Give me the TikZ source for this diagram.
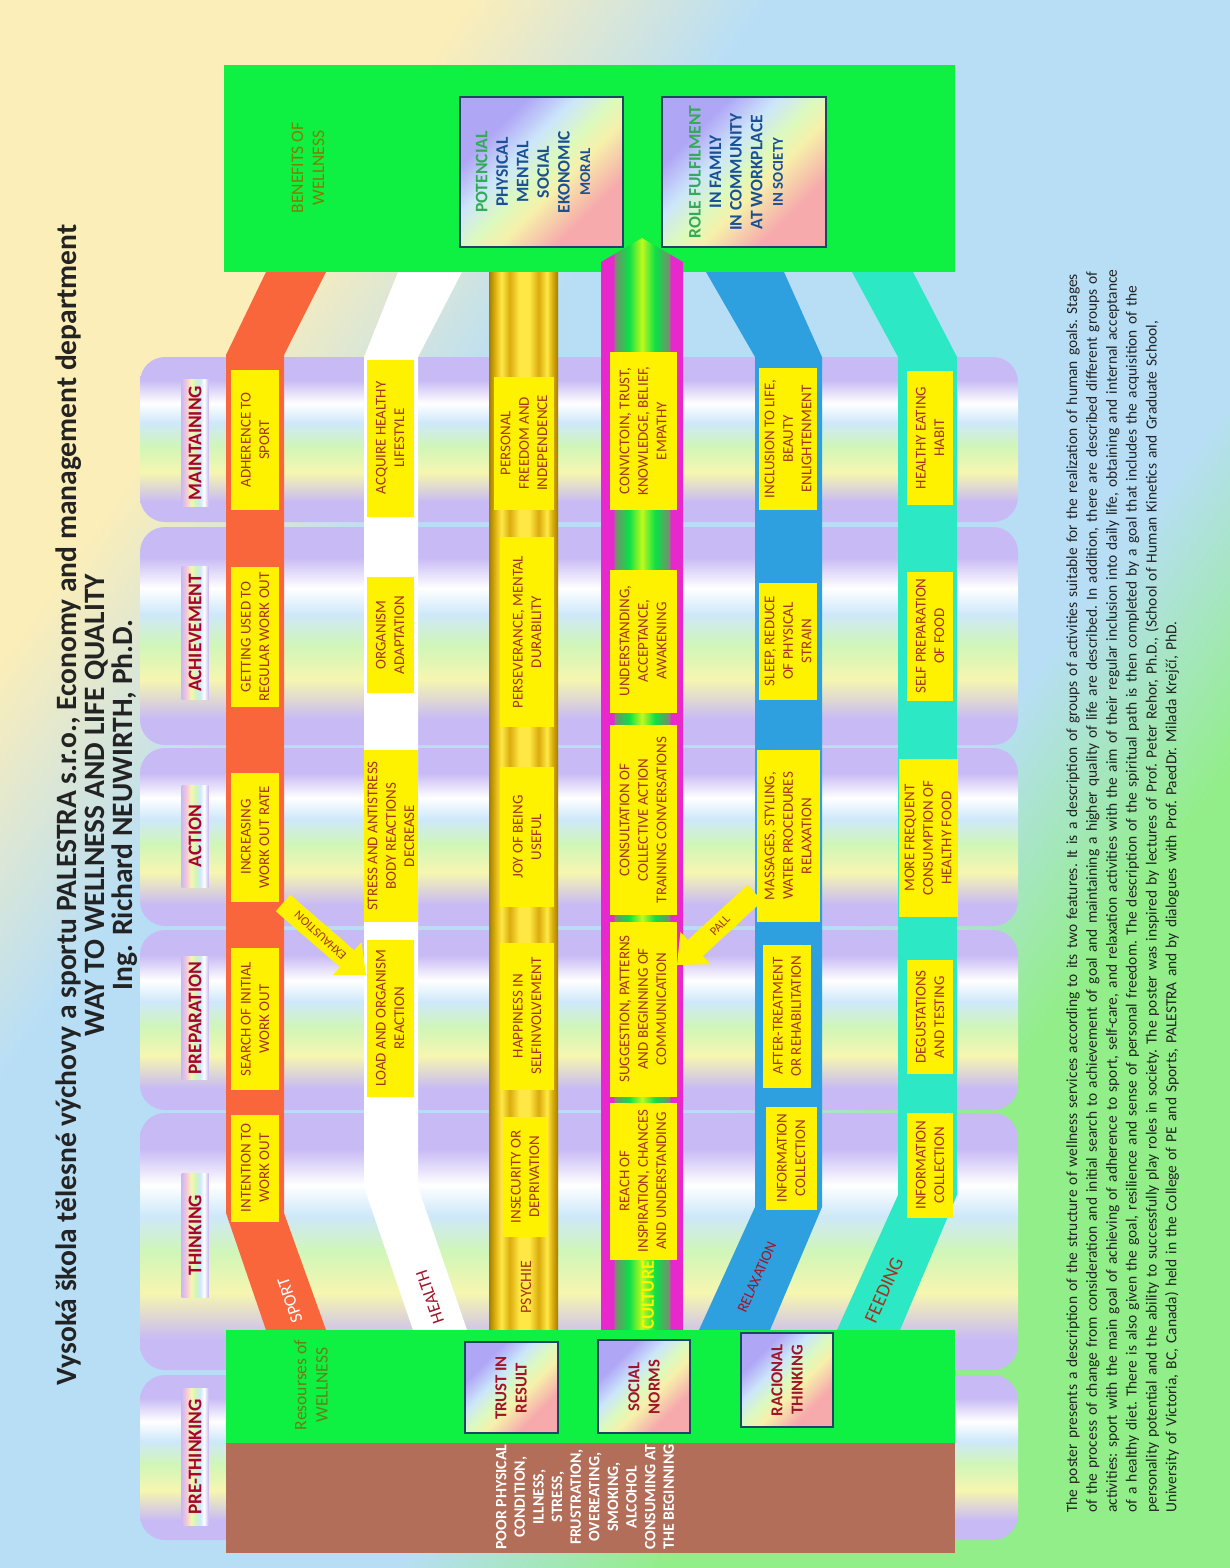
\documentclass[tikz,border=0pt]{standalone}
\usepackage{fontspec}
\setmainfont{Carlito}
\usetikzlibrary{calc}

\newcommand{\upx}{0.02cm}
\newlength{\blurbwidth}
\setlength{\blurbwidth}{28.36cm}

% colours
\definecolor{bgyellow}{RGB}{252,238,184}
\definecolor{bgblue}{RGB}{184,222,246}
\definecolor{bggreen}{RGB}{146,238,136}
\definecolor{pilllav}{RGB}{200,186,245}
\definecolor{pillyel}{RGB}{246,246,176}
\definecolor{pillgrn}{RGB}{208,246,184}
\definecolor{pillblu}{RGB}{206,232,250}
\definecolor{tagpink}{RGB}{246,200,214}
\definecolor{wellgreen}{RGB}{14,240,66}
\definecolor{poorbrown}{RGB}{178,110,88}
\definecolor{sportred}{RGB}{250,102,60}
\definecolor{relaxblue}{RGB}{46,160,224}
\definecolor{feedcyan}{RGB}{44,232,196}
\definecolor{golddark}{RGB}{160,126,0}
\definecolor{goldmid}{RGB}{218,172,12}
\definecolor{goldlight}{RGB}{255,232,70}
\definecolor{culturemag}{RGB}{232,40,204}
\definecolor{culturegray}{RGB}{120,140,110}
\definecolor{culturegreen}{RGB}{10,225,70}
\definecolor{cultureyel}{RGB}{190,250,30}
\definecolor{goallav}{RGB}{176,166,246}
\definecolor{goalblue}{RGB}{204,230,250}
\definecolor{goalgrn}{RGB}{220,250,190}
\definecolor{goalyel}{RGB}{246,240,170}
\definecolor{goalpink}{RGB}{246,170,172}
\definecolor{framecol}{RGB}{30,70,100}
\definecolor{celltext}{RGB}{165,50,30}
\definecolor{stagetext}{RGB}{170,0,50}
\definecolor{olivetext}{RGB}{128,128,0}
\definecolor{resgreen}{RGB}{100,130,20}
\definecolor{goalgreentext}{RGB}{50,170,90}
\definecolor{goalbluetext}{RGB}{25,80,150}
\definecolor{normtext}{RGB}{160,20,40}
\definecolor{inktext}{RGB}{35,35,35}

% shadings (the path fills the 25bp--75bp part)
\pgfdeclarehorizontalshading{bgshade}{100bp}{color(0bp)=(bgyellow); color(29bp)=(bgyellow); color(38bp)=(bgblue); color(60bp)=(bgblue); color(68bp)=(bggreen); color(100bp)=(bggreen)}
\pgfdeclareverticalshading{pillshade}{100bp}{color(0bp)=(pilllav); color(31bp)=(pilllav); color(40bp)=(pillyel); color(48bp)=(pillgrn); color(55bp)=(pillblu); color(61bp)=(white); color(68bp)=(pilllav); color(100bp)=(pilllav)}
\pgfdeclarehorizontalshading{tagshade}{100bp}{color(0bp)=(pilllav); color(25bp)=(pilllav); color(34bp)=(tagpink); color(43bp)=(pillyel); color(51bp)=(pillgrn); color(59bp)=(pillblu); color(67bp)=(white); color(75bp)=(pilllav); color(100bp)=(pilllav)}
\pgfdeclarehorizontalshading{goldshade}{100bp}{color(0bp)=(golddark); color(25bp)=(golddark); color(29bp)=(goldmid); color(34bp)=(goldlight); color(40bp)=(goldmid); color(47bp)=(goldlight); color(54bp)=(goldlight); color(61bp)=(goldmid); color(67bp)=(goldlight); color(71bp)=(goldmid); color(75bp)=(golddark); color(100bp)=(golddark)}
\pgfdeclarehorizontalshading{cultureshade}{100bp}{color(0bp)=(culturemag); color(32.5bp)=(culturemag); color(33.5bp)=(culturegray); color(42bp)=(culturegreen); color(50bp)=(cultureyel); color(58bp)=(culturegreen); color(66.5bp)=(culturegray); color(67.5bp)=(culturemag); color(100bp)=(culturemag)}
\pgfdeclarehorizontalshading{goalshade}{100bp}{color(0bp)=(goallav); color(30bp)=(goallav); color(41bp)=(goalblue); color(50bp)=(goalgrn); color(57bp)=(goalyel); color(70bp)=(goalpink); color(100bp)=(goalpink)}

\begin{document}
\begin{tikzpicture}[x=\upx, y=-\upx,
  stagetag/.style={rotate=90, shade, shading=tagshade, text=stagetext, inner sep=0pt,
    minimum height=0.54cm, font=\bfseries\fontsize{11}{13}\selectfont},
  cell/.style={rotate=90, fill=yellow, text=celltext, align=center, inner sep=0pt,
    font=\fontsize{8.5}{10.5}\selectfont},
  goalbox/.style={shade, shading=goalshade, shading angle=-45, draw=framecol, line width=1.2pt},
  goalnote/.style={rotate=90, align=center, inner sep=0pt, font=\bfseries\fontsize{10}{11.7}\selectfont},
  headnote/.style={rotate=90, align=center, inner sep=0pt, font=\fontsize{10}{12}\selectfont},
  bandtag/.style={inner sep=0pt, font=\fontsize{10}{12}\selectfont},
  arrowtag/.style={inner sep=0pt, text=celltext, font=\fontsize{7}{8}\selectfont}]

  % Background
  \useasboundingbox (0,0) rectangle (1230,1568);
  \shade[shading=bgshade, shading angle=-35.5] (0,0) rectangle (1230,1568);

  % Stage columns
  \foreach \ya/\yb in {357/522, 527/745, 748/926, 930/1110, 1113/1370, 1375/1540}
    \shade[shading=pillshade, rounded corners=0.5cm] (140,\ya) rectangle (1018,\yb);

  % Bands
  \fill[sportred] (266,272) -- (226,355) -- (226,1213) -- (266,1330) -- (326,1330)
    -- (284,1213) -- (284,355) -- (326,272) -- cycle;
  \fill[white] (398,272) -- (364,357) -- (364,1187) -- (413,1330) -- (467,1330)
    -- (418,1187) -- (418,357) -- (462,272) -- cycle;
  \shade[shading=goldshade] (489,272) rectangle (558,1330);
  \shade[shading=cultureshade] (601,272) rectangle (683,1330);
  \fill[relaxblue] (706,272) -- (755,357) -- (755,1207) -- (699,1330) -- (770,1330)
    -- (822,1207) -- (822,357) -- (784,272) -- cycle;
  \fill[feedcyan] (852,272) -- (898,357) -- (898,1195) -- (837,1330) -- (900,1330)
    -- (957,1195) -- (957,357) -- (913,272) -- cycle;

  % Benefits and resources
  \fill[wellgreen] (224,65) rectangle (955,272);
  \fill[wellgreen] (226,1330) rectangle (955,1443);
  \fill[poorbrown] (226,1443) rectangle (955,1553);
  \shade[shading=cultureshade] (601,274) -- (601,262) -- (642,238) -- (683,262) -- (683,274) -- cycle;

  \path[goalbox] (460,97) rectangle (623,247);
  \path[goalbox] (662,97) rectangle (826,247);
  \path[goalbox] (465,1342) rectangle (558,1433);
  \path[goalbox] (598,1340) rectangle (690,1433);
  \path[goalbox] (741,1333) rectangle (833,1427);

  \node[headnote, text=olivetext] (benefits) at (308,168) {BENEFITS OF\\WELLNESS};
  \node[goalnote, text=goalbluetext] (potential) at (533,172)
    {\textcolor{goalgreentext}{POTENCIAL}\\PHYSICAL\\MENTAL\\SOCIAL\\EKONOMIC\\{\fontsize{8.5}{11.7}\selectfont MORAL}};
  \node[goalnote, text=goalbluetext] (role) at (736,172)
    {\textcolor{goalgreentext}{ROLE FULFILMENT}\\IN FAMILY\\IN COMMUNITY\\AT WORKPLACE\\{\fontsize{8.5}{11.7}\selectfont IN SOCIETY}};

  \node[headnote, text=resgreen] (resources) at (311,1385) {Resourses of\\WELLNESS};
  \node[goalnote, text=normtext, font=\bfseries\fontsize{9.5}{11.5}\selectfont] (trust) at (511,1388) {TRUST IN\\RESULT};
  \node[goalnote, text=normtext, font=\bfseries\fontsize{9.5}{11.5}\selectfont] (norms) at (644,1387) {SOCIAL\\NORMS};
  \node[goalnote, text=normtext, font=\bfseries\fontsize{9.5}{11.5}\selectfont] (racional) at (787,1380) {RACIONAL\\THINKING};
  \node[goalnote, text=white, font=\bfseries\fontsize{9}{10.6}\selectfont] (poor) at (585,1497)
    {POOR PHYSICAL\\CONDITION,\\ILLNESS,\\STRESS,\\FRUSTRATION,\\OVEREATING,\\SMOKING,\\ALCOHOL\\CONSUMING AT\\THE BEGINNING};

  % Sport cells
  \node[cell, minimum width=107*\upx, minimum height=48*\upx] (s1) at (255,1168) {INTENTION TO\\WORK OUT};
  \node[cell, minimum width=142*\upx, minimum height=48*\upx] (s2) at (255,1019) {SEARCH OF INITIAL\\WORK OUT};
  \node[cell, minimum width=129*\upx, minimum height=48*\upx] (s3) at (255,837) {INCREASING\\WORK OUT RATE};
  \node[cell, minimum width=140*\upx, minimum height=48*\upx] (s4) at (255,637) {GETTING USED TO\\REGULAR WORK OUT};
  \node[cell, minimum width=140*\upx, minimum height=48*\upx] (s5) at (255,440) {ADHERENCE TO\\SPORT};

  % Health cells
  \node[cell, minimum width=157*\upx, minimum height=47*\upx] (h2) at (390,1018) {LOAD AND ORGANISM\\REACTION};
  \node[cell, minimum width=172*\upx, minimum height=54*\upx] (h3) at (391,836) {STRESS AND ANTISTRESS\\BODY REACTIONS\\DECREASE};
  \node[cell, minimum width=116*\upx, minimum height=47*\upx] (h4) at (390,635) {ORGANISM\\ADAPTATION};
  \node[cell, minimum width=157*\upx, minimum height=47*\upx] (h5) at (390,438) {ACQUIRE HEALTHY\\LIFESTYLE};

  % Psychie cells
  \node[cell, minimum width=120*\upx, minimum height=44*\upx] (p1) at (525,1177) {INSECURITY OR\\DEPRIVATION};
  \node[cell, minimum width=147*\upx, minimum height=54*\upx] (p2) at (527,1016) {HAPPINESS IN\\SELFINVOLVEMENT};
  \node[cell, minimum width=140*\upx, minimum height=54*\upx] (p3) at (527,837) {JOY OF BEING\\USEFUL};
  \node[cell, minimum width=190*\upx, minimum height=54*\upx] (p4) at (527,632) {PERSEVERANCE, MENTAL\\DURABILITY};
  \node[cell, minimum width=133*\upx, minimum height=60*\upx] (p5) at (524,443) {PERSONAL\\FREEDOM AND\\INDEPENDENCE};

  % Culture cells
  \node[cell, minimum width=157*\upx, minimum height=67*\upx] (c1) at (643,1181) {REACH OF\\INSPIRATION, CHANCES\\AND UNDERSTANDING};
  \node[cell, minimum width=175*\upx, minimum height=67*\upx] (c2) at (643,1009) {SUGGESTION, PATTERNS\\AND BEGINNING OF\\COMMUNICATION};
  \node[cell, minimum width=190*\upx, minimum height=67*\upx] (c3) at (643,820) {CONSULTATION OF\\COLLECTIVE ACTION\\TRAINING CONVERSATIONS};
  \node[cell, minimum width=143*\upx, minimum height=67*\upx] (c4) at (643,641) {UNDERSTANDING,\\ACCEPTANCE,\\AWAKENING};
  \node[cell, minimum width=158*\upx, minimum height=67*\upx] (c5) at (643,431) {CONVICTOIN, TRUST,\\KNOWLEDGE, BELIEF,\\EMPATHY};

  % Relaxation cells
  \node[cell, minimum width=103*\upx, minimum height=51*\upx] (r1) at (791,1158) {INFORMATION\\COLLECTION};
  \node[cell, minimum width=143*\upx, minimum height=48*\upx] (r2) at (787,1016) {AFTER-TREATMENT\\OR REHABILITATION};
  \node[cell, minimum width=172*\upx, minimum height=63*\upx] (r3) at (788,836) {MASSAGES, STYLING,\\WATER PROCEDURES\\RELAXATION};
  \node[cell, minimum width=117*\upx, minimum height=58*\upx] (r4) at (788,641) {SLEEP, REDUCE\\OF PHYSICAL\\STRAIN};
  \node[cell, minimum width=142*\upx, minimum height=58*\upx] (r5) at (788,439) {INCLUSION TO LIFE,\\BEAUTY\\ENLIGHTENMENT};

  % Feeding cells
  \node[cell, minimum width=105*\upx, minimum height=46*\upx] (f1) at (930,1165) {INFORMATION\\COLLECTION};
  \node[cell, minimum width=114*\upx, minimum height=46*\upx] (f2) at (930,1017) {DEGUSTATIONS\\AND TESTING};
  \node[cell, minimum width=158*\upx, minimum height=59*\upx] (f3) at (928,838) {MORE FREQUENT\\CONSUMPTION OF\\HEALTHY FOOD};
  \node[cell, minimum width=129*\upx, minimum height=46*\upx] (f4) at (930,636) {SELF PREPARATION\\OF FOOD};
  \node[cell, minimum width=134*\upx, minimum height=46*\upx] (f5) at (930,438) {HEALTHY EATING\\HABIT};

  % Warning arrows
  \coordinate (exT) at (283,903);
  \coordinate (exP) at (366,975);
  \coordinate (exH) at ($(exP)!0.5cm!(exT)$);
  \fill[yellow] ($(exT)!0.22cm!90:(exP)$) -- ($(exH)!0.22cm!90:(exP)$) -- ($(exH)!0.44cm!90:(exP)$)
    -- (exP) -- ($(exH)!0.44cm!-90:(exP)$) -- ($(exH)!0.22cm!-90:(exP)$) -- ($(exT)!0.22cm!-90:(exP)$) -- cycle;
  \node[arrowtag, rotate=137] (exhaustion) at ($(exT)!0.45!(exP)$) {EXHAUSTION};

  \coordinate (paT) at (755,893);
  \coordinate (paP) at (677,965);
  \coordinate (paH) at ($(paP)!0.5cm!(paT)$);
  \fill[yellow] ($(paT)!0.22cm!90:(paP)$) -- ($(paH)!0.22cm!90:(paP)$) -- ($(paH)!0.44cm!90:(paP)$)
    -- (paP) -- ($(paH)!0.44cm!-90:(paP)$) -- ($(paH)!0.22cm!-90:(paP)$) -- ($(paT)!0.22cm!-90:(paP)$) -- cycle;
  \node[arrowtag, rotate=46] (pall) at ($(paT)!0.45!(paP)$) {PALL};

  % Band labels
  \node[bandtag, text=white, rotate=109] (sport) at (290,1300) {SPORT};
  \node[bandtag, text=normtext, rotate=109] (health) at (430,1297) {HEALTH};
  \node[bandtag, text=celltext, rotate=90, font=\fontsize{9}{11}\selectfont] (psychie) at (526,1287) {PSYCHIE};
  \node[bandtag, text=yellow, rotate=90, font=\bfseries\fontsize{10.5}{12}\selectfont] (culture) at (648,1295) {CULTURE};
  \node[bandtag, text=normtext, rotate=66, font=\fontsize{8.5}{10}\selectfont] (relaxation) at (757,1277) {RELAXATION};
  \node[bandtag, text=celltext, rotate=66, font=\fontsize{11}{13}\selectfont] (feeding) at (884,1290) {FEEDING};

  % Stage tags
  \node[stagetag, minimum width=127*\upx] (maintaining) at (195,443) {MAINTAINING};
  \node[stagetag, minimum width=133*\upx] (achievement) at (195,633) {ACHIEVEMENT};
  \node[stagetag, minimum width=102*\upx] (action) at (195,836) {ACTION};
  \node[stagetag, minimum width=123*\upx] (preparation) at (195,1018) {PREPARATION};
  \node[stagetag, minimum width=124*\upx] (thinking) at (195,1235) {THINKING};
  \node[stagetag, minimum width=137*\upx] (prethinking) at (195,1457) {PRE-THINKING};

  % Title
  \node[rotate=90, align=center, inner sep=0pt, text=inktext, font=\bfseries\fontsize{16.8}{16}\selectfont] (title) at (97,805)
    {Vysoká škola tělesné výchovy a sportu PALESTRA s.r.o., Economy and management department\\
     WAY TO WELLNESS AND LIFE QUALITY\\
     Ing. Richard NEUWIRTH, Ph.D.};

  % Description
  \node[rotate=90, anchor=north west, inner sep=0pt, text width=\blurbwidth, align=left, text=inktext,
    font=\fontsize{8.8}{11.3}\selectfont\frenchspacing] (about) at (1066,1513)
    {\makebox[\blurbwidth][s]{The poster presents a description of the structure of wellness services according to its two features. It is a description of groups of activities suitable for the realization of human goals. Stages}\\
     \makebox[\blurbwidth][s]{of the process of change from consideration and initial search to achievement of goal and maintaining a higher quality of life are described. In addition, there are described different groups of}\\
     \makebox[\blurbwidth][s]{activities: sport with the main goal of achieving of adherence to sport, self-care, and relaxation activities with the aim of their regular inclusion into daily life, obtaining and internal acceptance}\\
     \makebox[\blurbwidth][s]{of a healthy diet. There is also given the goal, resilience and sense of personal freedom. The description of the spiritual path is then completed by a goal that includes the acquisition of the}\\
     \makebox[\blurbwidth][s]{personality potential and the ability to successfully play roles in society. The poster was inspired by lectures of Prof. Peter Rehor, Ph.D., (School of Human Kinetics and Graduate School,}\\
     University of Victoria, BC, Canada) held in the College of PE and Sports, PALESTRA and by dialogues with Prof. PaedDr. Milada Krejčí, PhD.};
\end{tikzpicture}
\end{document}
